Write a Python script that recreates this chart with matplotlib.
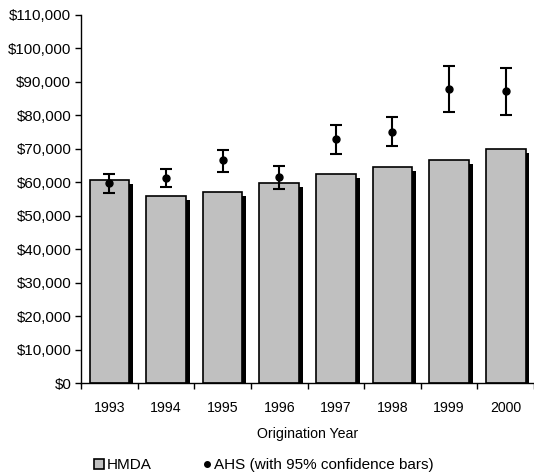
import matplotlib
matplotlib.use("Agg")
import matplotlib.pyplot as plt
import matplotlib.ticker as mticker
from matplotlib.patches import Patch
from matplotlib.lines import Line2D
import numpy as np

plt.rcParams['font.family'] = ['Liberation Sans', 'DejaVu Sans']

years = ['1993', '1994', '1995', '1996', '1997', '1998', '1999', '2000']
hmda = [60600, 55900, 57000, 59800, 62500, 64700, 66750, 70000]
ahs = [59900, 61400, 66600, 61500, 72900, 75200, 87900, 87300]
ahs_low = [56900, 58500, 63200, 58100, 68600, 70800, 81000, 80200]
ahs_high = [62600, 64000, 69700, 64900, 77100, 79400, 94800, 94200]

fig = plt.figure(figsize=(5.34, 4.74), dpi=100)
ax = fig.add_axes([0.1517, 0.1913, 0.8483, 0.7771])

x = np.arange(len(years))
w = 0.7
# shadows
ax.bar(x + 0.07, np.array(hmda) - 1200, width=w, color='black', zorder=1)
ax.bar(x, hmda, width=w, color='#C0C0C0', edgecolor='black', linewidth=1.2, zorder=2)

yerr = [np.array(ahs) - np.array(ahs_low), np.array(ahs_high) - np.array(ahs)]
ax.errorbar(x, ahs, yerr=yerr, fmt='o', color='black', markersize=5,
            elinewidth=1.5, capsize=4.5, capthick=1.5, zorder=3)

ax.set_xlim(-0.5, 7.5)
ax.set_ylim(0, 110000)
ax.yaxis.set_major_locator(mticker.MultipleLocator(10000))
ax.yaxis.set_major_formatter(mticker.FuncFormatter(lambda v, p: f'${v:,.0f}'))
ax.set_xticks(x)
ax.set_xticklabels(years)
ax.set_xticks(np.arange(-0.5, 7.6, 1), minor=True)
ax.tick_params(axis='x', which='major', length=0, pad=12.5, labelsize=10.2)
ax.tick_params(axis='x', which='minor', length=4, width=1, direction='out')
ax.tick_params(axis='y', length=4, width=1, direction='out', labelsize=10.8, pad=3)
for s in ['top', 'right']:
    ax.spines[s].set_visible(False)
for s in ['left', 'bottom']:
    ax.spines[s].set_linewidth(1)
ax.set_xlabel('Origination Year', fontsize=10.2, labelpad=9)

handles = [Patch(facecolor='#C0C0C0', edgecolor='black', linewidth=1.2),
           Line2D([], [], marker='o', color='black', linestyle='none', markersize=4)]
fig.legend(handles, ['HMDA', 'AHS (with 95% confidence bars)'], loc='center',
           bbox_to_anchor=(0.494, 0.018), ncol=2, frameon=False, fontsize=11,
           handlelength=0.65, handleheight=0.65, handletextpad=0.15, columnspacing=3.3)

fig.savefig('out.png', dpi=100)
